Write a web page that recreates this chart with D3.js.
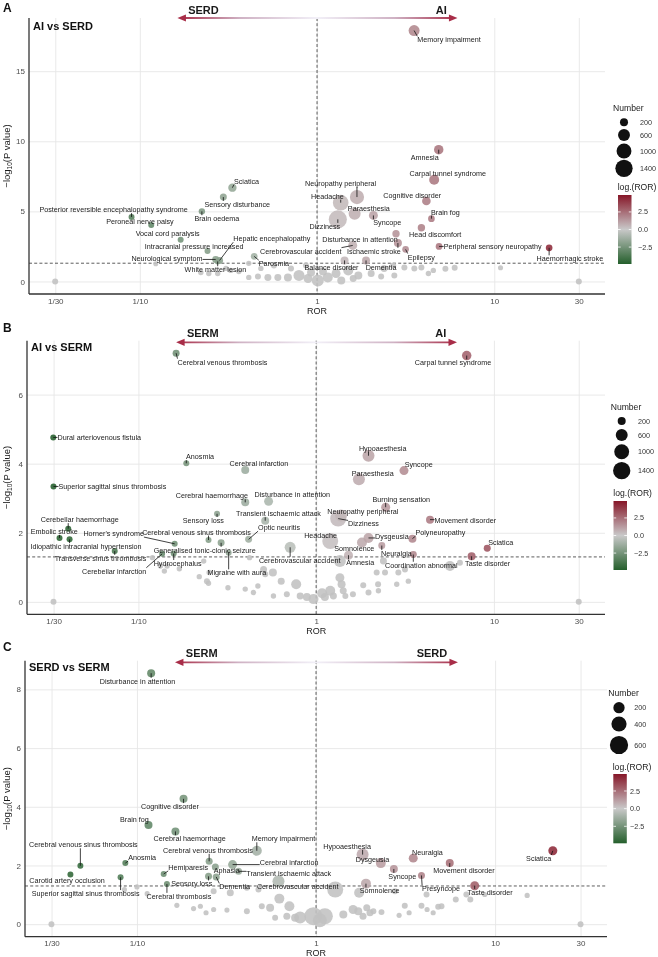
<!DOCTYPE html>
<html><head><meta charset="utf-8">
<script src="https://cdn.jsdelivr.net/npm/d3@7"></script>
<style>body{margin:0;background:#fff}svg{display:block;will-change:transform}text{font-family:"Liberation Sans",Arial,Helvetica,sans-serif}</style>
</head><body><svg id="chart" width="658" height="957"></svg>
<script>
// ---------- DATA ----------
const xTickValues = [1/30, 1/10, 1, 10, 30];
const xTickLabels = ["1/30", "1/10", "1", "10", "30"];
const yTicksA = [0, 5, 10, 15];
const yTicksB = [0, 2, 4, 6];
const yTicksC = [0, 2, 4, 6, 8];
const sizeBreaksAB = [200, 600, 1000, 1400];
const sizeBreaksC = [200, 400, 600];
const colorBreaks = [2.5, 0, -2.5];

// [name, ROR, -log10(P), Number]
const sigA = [
["Memory impairment",3.53,17.9,490],["Amnesia",4.86,9.4,330],["Carpal tunnel syndrome",4.58,7.26,383],
["Cognitive disorder",4.14,5.74,250],["Brain fog",4.42,4.48,100],["Head discomfort",3.88,3.83,150],
["Peripheral sensory neuropathy",4.88,2.5,100],["Haemorrhagic stroke",20.4,2.4,100],["Epilepsy",3.16,2.29,100],
["Ischaemic stroke",2.86,2.74,199],["Disturbance in attention",2.79,3.4,150],["Syncope",2.08,4.71,286],
["Paraesthesia",1.63,4.83,607],["Neuropathy peripheral",1.68,6.02,900],["Headache",1.36,5.62,1120],
["Dizziness",1.31,4.43,1550],["Cerebrovascular accident",1.59,2.57,286],["Balance disorder",1.43,1.5,199],
["Dementia",1.89,1.5,199],["Sciatica",0.333,6.69,230],["Sensory disturbance",0.296,6.02,122],
["Brain oedema",0.224,5.0,80],["Posterior reversible encephalopathy syndrome",0.0898,4.6,56],
["Peroneal nerve palsy",0.116,4.02,56],["Vocal cord paralysis",0.170,2.98,56],
["Intracranial pressure increased",0.241,2.17,56],["Neurological symptom",0.268,1.57,122],
["Hepatic encephalopathy",0.282,1.5,122],["White matter lesion",0.275,1.43,56],["Parosmia",0.442,1.79,100]
];
// [ROR, -log10(P), Number]
const grayA = [
[0.0333,0,56],[0.123,1.26,5],[0.412,1.29,20],[0.412,0.29,20],[0.221,0.64,20],[0.245,0.57,20],[0.275,0.57,20],
[0.326,0.79,20],[0.464,0.36,56],[0.482,0.93,20],[0.528,0.29,122],[0.571,1.14,56],[0.601,0.29,122],[0.685,0.29,199],
[0.791,0.43,490],[0.889,0.21,286],[1.01,0.07,607],[1.15,0.29,383],[1.28,0.57,286],[1.50,0.79,383],[1.71,0.43,199],
[2.02,0.57,122],[2.39,0.93,122],[2.69,1.14,56],[3.11,1.0,56],[3.54,0.93,56],[3.88,1.0,56],[4.25,0.57,20],
[4.53,0.79,20],[2.73,0.43,56],[2.30,0.36,56],[1.60,0.21,122],[1.37,0.07,199],[5.3,0.9,56],[5.98,0.98,56],
[10.85,0.98,5],[30,0,56],[0.925,0.64,199],[1.08,0.71,199],[0.713,0.93,56],[0.866,1.14,56],[0.362,0.71,20],[0.306,0.93,20]
];
const sigB = [
["Carpal tunnel syndrome",7.03,7.13,330],["Cerebral venous thrombosis",0.163,7.2,122],
["Dural arteriovenous fistula",0.0332,4.76,56],["Anosmia",0.186,4.01,56],["Cerebral infarction",0.399,3.82,199],
["Hypoaesthesia",1.97,4.23,607],["Syncope",3.12,3.8,286],["Paraesthesia",1.74,3.55,607],
["Superior sagittal sinus thrombosis",0.0333,3.34,56],["Cerebral haemorrhage",0.399,2.88,199],
["Disturbance in attention",0.540,2.91,286],["Burning sensation",2.46,2.74,286],["Sensory loss",0.277,2.55,56],
["Transient ischaemic attack",0.517,2.35,199],["Movement disorder",4.37,2.38,199],["Neuropathy peripheral",1.38,2.50,607],
["Dizziness",1.33,2.41,1178],["Cerebellar haemorrhage",0.0403,2.12,56],["Embolic stroke",0.036,1.85,56],
["Idiopathic intracranial hypertension",0.041,1.81,56],["Horner's syndrome",0.160,1.68,56],
["Cerebral venous sinus thrombosis",0.248,1.79,56],["Optic neuritis",0.417,1.81,122],
["Generalised tonic-clonic seizure",0.292,1.71,122],["Transverse sinus thrombosis",0.0736,1.47,56],
["Hydrocephalus",0.158,1.40,56],["Cerebellar infarction",0.136,1.39,56],["Migraine with aura",0.322,1.42,56],
["Headache",1.20,1.76,1178],["Somnolence",1.81,1.72,383],["Dysgeusia",1.97,1.85,383],["Polyneuropathy",3.48,1.83,199],
["Neuralgia",2.34,1.63,122],["Coordination abnormal",3.52,1.37,122],["Amnesia",1.52,1.35,286],
["Cerebrovascular accident",0.714,1.58,490],["Sciatica",9.17,1.55,122],["Taste disorder",7.49,1.32,199]
];
const grayB = [
[0.0333,0,56],[0.120,1.28,20],[0.133,1.04,20],[0.140,0.89,20],[0.145,1.04,20],[0.170,0.96,20],[0.233,1.18,20],
[0.220,0.73,20],[0.243,0.60,56],[0.248,0.54,20],[0.250,0.85,20],[0.319,0.41,20],[0.399,0.37,20],[0.422,1.28,20],
[0.444,0.27,20],[0.470,0.46,20],[0.506,0.94,122],[0.517,0.80,56],[0.571,0.85,199],[0.575,0.17,20],[0.636,0.60,122],
[0.684,0.22,56],[0.772,0.51,383],[0.813,0.17,122],[0.887,0.14,199],[0.966,0.08,383],[1.36,1.18,607],[1.36,0.70,286],
[1.39,0.51,199],[1.20,0.32,383],[1.42,0.32,122],[1.12,0.14,199],[1.25,0.17,122],[1.46,0.17,56],[1.61,0.22,56],
[1.84,0.48,56],[1.97,0.27,56],[2.24,0.32,20],[2.23,0.51,56],[2.44,0.85,56],[2.19,0.85,56],[2.84,0.51,20],
[2.90,0.85,56],[3.16,0.94,56],[3.30,0.60,20],[2.39,1.18,122],[5.66,1.04,383],[6.44,1.13,56],[30,0,56],[1.08,0.25,383]
];
const sigC = [
["Disturbance in attention",0.12,8.55,76],["Cognitive disorder",0.182,4.27,76],["Brain fog",0.116,3.38,76],
["Cerebral haemorrhage",0.164,3.16,76],["Memory impairment",0.467,2.5,146],
["Cerebral venous sinus thrombosis",0.0483,1.99,21],["Anosmia",0.0861,2.08,21],["Carotid artery occlusion",0.0425,1.69,21],
["Superior sagittal sinus thrombosis",0.081,1.6,21],["Hemiparesis",0.141,1.71,21],["Cerebral thrombosis",0.147,1.37,21],
["Cerebral venous thrombosis",0.253,2.14,47],["Cerebral infarction",0.342,2.03,109],["Aphasia",0.274,1.95,47],
["Transient ischaemic attack",0.369,1.8,47],["Sensory loss",0.251,1.63,47],["Dementia",0.277,1.61,47],
["Cerebrovascular accident",0.617,1.46,232],["Hypoaesthesia",1.82,2.37,232],["Dysgeusia",2.30,2.08,146],
["Neuralgia",3.49,2.25,109],["Movement disorder",5.58,2.08,76],["Sciatica",21.0,2.5,109],["Syncope",2.72,1.88,76],
["Presyncope",3.88,1.66,47],["Somnolence",1.90,1.38,146],["Taste disorder",7.69,1.31,109]
];
const grayC = [
[0.0333,0,21],[0.0851,1.18,3],[0.100,1.27,3],[0.114,1.04,3],[0.167,0.64,3],[0.207,0.53,3],[0.226,0.61,3],
[0.243,0.39,3],[0.268,0.50,3],[0.268,1.12,21],[0.318,0.48,3],[0.332,1.07,47],[0.411,0.44,21],[0.498,0.61,21],
[0.554,0.56,76],[0.624,0.87,146],[0.591,0.22,21],[0.687,0.27,47],[0.710,0.61,146],[0.764,0.22,76],[0.966,0.27,583],
[1.12,0.27,450],[0.477,1.18,21],[0.411,1.24,21],[1.28,1.18,450],[1.42,0.33,76],[1.61,0.50,109],[1.72,0.44,76],
[1.83,0.27,47],[2.0,0.39,47],[1.92,0.56,47],[2.09,0.44,21],[2.32,0.41,21],[1.74,1.07,146],[2.76,1.12,21],
[2.91,0.30,3],[3.13,0.63,21],[3.31,0.39,3],[3.88,0.63,21],[4.14,1.01,21],[4.17,0.50,3],[4.51,0.39,3],[4.81,0.59,21],
[5.02,0.61,21],[6.03,0.84,21],[6.91,1.01,21],[7.27,0.84,21],[8.75,1.01,3],[15.1,0.98,3],[30,0,21],[0.815,0.23,232],[1.05,0.13,334]
];

// ---------- LABEL LAYOUT (pixel offsets of label centre from its point) ----------
const offA = {"Memory impairment":[35,9.3],"Amnesia":[-14,7.4],"Carpal tunnel syndrome":[13.6,-6],"Cognitive disorder":[-14.2,-6],
"Brain fog":[14,-6.6],"Head discomfort":[13.8,6.4],"Peripheral sensory neuropathy":[53.6,0.3],"Haemorrhagic stroke":[20.7,11],
"Epilepsy":[15.7,7.7],"Ischaemic stroke":[-24,8.3],"Disturbance in attention":[-36,5.7],"Syncope":[13.9,7.3],
"Paraesthesia":[14.2,-5.6],"Neuropathy peripheral":[-16.3,-13.4],"Headache":[-13.3,-6.6],"Dizziness":[-13,7],
"Cerebrovascular accident":[-52,5.7],"Balance disorder":[-13,7.3],"Dementia":[15,7.3],"Sciatica":[14.1,-6.6],
"Sensory disturbance":[14,7.3],"Brain oedema":[14.9,7.3],"Posterior reversible encephalopathy syndrome":[-18,-7.4],
"Peroneal nerve palsy":[-11.3,-3.7],"Vocal cord paralysis":[-13,-6],"Intracranial pressure increased":[-13.4,-5],
"Neurological symptom":[-48.7,-0.7],"Hepatic encephalopathy":[52.2,-21.7],"White matter lesion":[-2.3,8.3],"Parosmia":[19.7,7.3]};
const offB = {"Carpal tunnel syndrome":[-13.7,7.3],"Cerebral venous thrombosis":[46.3,9],"Dural arteriovenous fistula":[46,0],
"Anosmia":[13.7,-6.6],"Cerebral infarction":[13.7,-6],"Hypoaesthesia":[14.2,-7],"Syncope":[14.7,-6],"Paraesthesia":[13.8,-5.3],
"Superior sagittal sinus thrombosis":[58.9,0],"Cerebral haemorrhage":[-33.3,-6.7],"Disturbance in attention":[23.7,-6.4],
"Burning sensation":[15.6,-8],"Sensory loss":[-13.7,6.7],"Transient ischaemic attack":[13.3,-7],"Movement disorder":[35.3,1],
"Neuropathy peripheral":[21.8,-4],"Dizziness":[25.3,5.3],"Cerebellar haemorrhage":[11.5,-9],"Embolic stroke":[-5.3,-6.6],
"Idiopathic intracranial hypertension":[16.5,7.3],"Horner's syndrome":[-61,-10.3],"Cerebral venous sinus thrombosis":[-12,-8],
"Optic neuritis":[30.4,-11.7],"Generalised tonic-clonic seizure":[-16.4,7.4],"Transverse sinus thrombosis":[-14.3,7.3],
"Hydrocephalus":[3.9,10],"Cerebellar infarction":[-48,17.4],"Migraine with aura":[8.2,20],"Headache":[-9.7,-5.7],
"Somnolence":[-7.7,6],"Dysgeusia":[23.4,-1],"Polyneuropathy":[28,-6],"Neuralgia":[14.6,8],"Coordination abnormal":[8,10.7],
"Amnesia":[11.7,7.6],"Cerebrovascular accident":[9.5,13],"Sciatica":[13.5,-6.3],"Taste disorder":[16.1,7.3]};
const offC = {"Disturbance in attention":[-13.7,8],"Cognitive disorder":[-13.5,7.7],"Brain fog":[-14.1,-5.7],
"Cerebral haemorrhage":[14.2,7.3],"Memory impairment":[26.6,-12],"Cerebral venous sinus thrombosis":[3,-21],"Anosmia":[16.8,-5.6],
"Carotid artery occlusion":[-3.3,6],"Superior sagittal sinus thrombosis":[-35,16.3],"Hemiparesis":[24.5,-6.6],
"Cerebral thrombosis":[12,12.4],"Cerebral venous thrombosis":[-1.2,-11],"Cerebral infarction":[56.5,-2.3],"Aphasia":[11.3,3.7],
"Transient ischaemic attack":[50.2,2.6],"Sensory loss":[-16.8,7.6],"Dementia":[18.5,10],"Cerebrovascular accident":[19.2,5.6],
"Hypoaesthesia":[-15.5,-8.3],"Dysgeusia":[-8.3,-4],"Neuralgia":[14.2,-6],"Movement disorder":[14.2,7.4],"Sciatica":[-14.1,7.7],
"Syncope":[8.5,7.4],"Presyncope":[19.6,13.3],"Somnolence":[13.7,7.3],"Taste disorder":[15.5,6.7]};

// ---------- DRAW ----------
const svg = d3.select("#chart");
const defs = svg.append("defs");
const SIG = -Math.log10(0.05);
const lim = Math.log2(30);
const color = d3.scaleLinear().domain([-lim, 0, lim]).range(["#245f2c", "#c9c9c9", "#861628"]).interpolate(d3.interpolateRgb);
const grayFill = "#c2c2c2";
const fmt = d3.format(".1f");

const panels = [
 {id:"A", title:"AI vs SERD", left:"SERD", right:"AI", sig:sigA, gray:grayA, off:offA, yTicks:yTicksA,
  L:29, R:605, T:18, B:294, letterY:11.5, titleY:29.5, arrowTextY:14,
  size:d3.scaleRadial().domain([0,1600]).range([2.5,9.2]), breaks:sizeBreaksAB,
  numX:613, numY:110.5, circX:624, sizeY:[122.3,135,151,168.3], sizeLabX:640,
  logX:617.7, logY:189.7, barX:618, barT:195, barB:264, barLabX:638},
 {id:"B", title:"AI vs SERM", left:"SERM", right:"AI", sig:sigB, gray:grayB, off:offB, yTicks:yTicksB,
  L:27, R:605, T:340.7, B:614.3, letterY:332, titleY:351, arrowTextY:337.3,
  size:d3.scaleRadial().domain([0,1600]).range([2.5,9.2]), breaks:sizeBreaksAB,
  numX:610.7, numY:409.7, circX:621.7, sizeY:[421,435,451.7,470.7], sizeLabX:638,
  logX:613.3, logY:496.3, barX:613.5, barT:501, barB:570, barLabX:634},
 {id:"C", title:"SERD vs SERM", left:"SERM", right:"SERD", sig:sigC, gray:grayC, off:offC, yTicks:yTicksC,
  L:25, R:607, T:660.7, B:936.7, letterY:651, titleY:671, arrowTextY:657.3,
  size:d3.scaleRadial().domain([0,700]).range([2.5,9.8]), breaks:sizeBreaksC,
  numX:608.3, numY:696.3, circX:619, sizeY:[707.7,724,745], sizeLabX:634.3,
  logX:612.7, logY:769.7, barX:613.3, barT:774, barB:843.3, barLabX:630}
];

panels.forEach(drawPanel);

function drawPanel(c) {
  const g = svg.append("g");
  const pts = c.sig.map(d => ({name:d[0], ror:d[1], p:d[2], n:d[3]}))
    .concat(c.gray.map(d => ({name:null, ror:d[0], p:d[1], n:d[2]})));
  const lx = d3.extent(pts, d => Math.log10(d.ror)), px = (lx[1]-lx[0])*0.05;
  const x = d3.scaleLog().domain([10**(lx[0]-px), 10**(lx[1]+px)]).range([c.L, c.R]);
  const ly = d3.extent(pts, d => d.p), py = (ly[1]-ly[0])*0.05;
  const y = d3.scaleLinear().domain([ly[0]-py, ly[1]+py]).range([c.B, c.T]);

  // grid
  const gx = g.append("g").attr("transform", `translate(0,${c.B})`)
    .call(d3.axisBottom(x).tickValues(xTickValues).tickSize(-(c.B-c.T)).tickFormat(""));
  const gy = g.append("g").attr("transform", `translate(${c.L},0)`)
    .call(d3.axisLeft(y).tickValues(c.yTicks).tickSize(-(c.R-c.L)).tickFormat(""));
  [gx, gy].forEach(a => { a.select(".domain").remove(); a.selectAll("line").attr("stroke", "#e6e6e6").attr("stroke-width", 0.9); });

  // reference lines
  g.append("line").attr("x1", x(1)).attr("x2", x(1)).attr("y1", c.T).attr("y2", c.B)
    .attr("stroke", "#333").attr("stroke-width", 0.8).attr("stroke-dasharray", "3,2.2");
  g.append("line").attr("x1", c.L).attr("x2", c.R).attr("y1", y(SIG)).attr("y2", y(SIG))
    .attr("stroke", "#333").attr("stroke-width", 0.8).attr("stroke-dasharray", "3,2.2");

  // axes labels
  const ax = g.append("g").attr("transform", `translate(0,${c.B})`)
    .call(d3.axisBottom(x).tickValues(xTickValues).tickFormat((d,i) => xTickLabels[i]).tickSize(0).tickPadding(4));
  const ay = g.append("g").attr("transform", `translate(${c.L},0)`)
    .call(d3.axisLeft(y).tickValues(c.yTicks).tickSize(0).tickPadding(4));
  [ax, ay].forEach(a => { a.select(".domain").remove();
    a.selectAll("text").attr("font-size", 8).attr("fill", "#4d4d4d").attr("font-family", '"Liberation Sans",Arial,sans-serif'); });

  // axis lines
  g.append("line").attr("x1", c.L).attr("x2", c.L).attr("y1", c.T).attr("y2", c.B).attr("stroke", "#333").attr("stroke-width", 1.3);
  g.append("line").attr("x1", c.L).attr("x2", c.R).attr("y1", c.B).attr("y2", c.B).attr("stroke", "#333").attr("stroke-width", 1.3);

  // axis titles
  g.append("text").attr("x", x(1)).attr("y", c.B + 19.5).attr("text-anchor", "middle")
    .attr("font-size", 9).attr("fill", "#1a1a1a").text("ROR");
  const yt = g.append("text").attr("transform", `translate(9.5,${(c.T+c.B)/2}) rotate(-90)`)
    .attr("text-anchor", "middle").attr("font-size", 9.5).attr("fill", "#1a1a1a");
  yt.append("tspan").text("\u2212log");
  yt.append("tspan").attr("font-size", 6.5).attr("dy", 2).text("10");
  yt.append("tspan").attr("dy", -2).text("(P value)");

  // arrows
  const ay0 = c.T + (c.id === "A" ? 0 : 1.6);
  const arrows = [{tip: x(0.163), side: "L"}, {tip: x(6.2), side: "R"}];
  arrows.forEach(a => {
    const gid = `grad${c.id}${a.side}`;
    const lg = defs.append("linearGradient").attr("id", gid).attr("gradientUnits", "userSpaceOnUse")
      .attr("x1", x(1)).attr("x2", a.tip).attr("y1", 0).attr("y2", 0);
    lg.append("stop").attr("offset", 0).attr("stop-color", "#f2f0f8");
    lg.append("stop").attr("offset", 0.55).attr("stop-color", "#cfb2c4");
    lg.append("stop").attr("offset", 1).attr("stop-color", "#a82d48");
    const dir = a.side === "L" ? 1 : -1;
    g.append("line").attr("x1", x(1)).attr("x2", a.tip + dir*6).attr("y1", ay0).attr("y2", ay0)
      .attr("stroke", `url(#${gid})`).attr("stroke-width", 1.8);
    g.append("path").attr("d", `M${a.tip},${ay0} L${a.tip + dir*8.5},${ay0-3.6} L${a.tip + dir*8.5},${ay0+3.6} Z`)
      .attr("fill", "#a82d48");
  });
  g.append("text").attr("x", x(0.1875)).attr("y", c.arrowTextY).attr("font-size", 11).attr("font-weight", "bold")
    .attr("fill", "#1a1a1a").attr("text-anchor", "start").text(c.left);
  g.append("text").attr("x", x(5.4)).attr("y", c.arrowTextY).attr("font-size", 11).attr("font-weight", "bold")
    .attr("fill", "#1a1a1a").attr("text-anchor", "end").text(c.right);

  // panel letter & title
  svg.append("text").attr("x", 3).attr("y", c.letterY).attr("font-size", 12).attr("font-weight", "bold").attr("fill", "#111").text(c.id);
  g.append("text").attr("x", c.L + 4).attr("y", c.titleY).attr("font-size", 11).attr("font-weight", "bold").attr("fill", "#111").text(c.title);

  // points
  const ordered = pts.filter(d => !d.name).sort((a,b) => b.n - a.n).concat(pts.filter(d => d.name).sort((a,b) => b.n - a.n));
  g.append("g").selectAll("circle").data(ordered).join("circle")
    .attr("cx", d => x(d.ror)).attr("cy", d => y(d.p)).attr("r", d => c.size(d.n))
    .attr("fill", d => d.p > SIG ? color(Math.log2(d.ror)) : grayFill).attr("fill-opacity", 0.88);

  // labels
  const segG = g.append("g"), labG = g.append("g");
  pts.filter(d => d.name).forEach(d => {
    const cx = x(d.ror), cy = y(d.p), o = c.off[d.name] || [10, -6];
    const t = labG.append("text").attr("x", cx + o[0]).attr("y", cy + o[1]).attr("dy", "0.35em")
      .attr("text-anchor", "middle").attr("font-size", 7.2).attr("fill", "#1a1a1a").text(d.name);
    const bb = t.node().getBBox();
    const nx = Math.max(bb.x, Math.min(cx, bb.x + bb.width)), ny = Math.max(bb.y + 1, Math.min(cy, bb.y + bb.height - 1));
    if (Math.hypot(nx - cx, ny - cy) > 3) {
      segG.append("line").attr("x1", cx).attr("y1", cy).attr("x2", nx).attr("y2", ny)
        .attr("stroke", "#111").attr("stroke-width", 0.8);
    }
  });

  // size legend
  g.append("text").attr("x", c.numX).attr("y", c.numY).attr("font-size", 8.6).attr("fill", "#1a1a1a").text("Number");
  c.breaks.forEach((b, i) => {
    g.append("circle").attr("cx", c.circX).attr("cy", c.sizeY[i]).attr("r", c.size(b)).attr("fill", "#111");
    g.append("text").attr("x", c.sizeLabX).attr("y", c.sizeY[i]).attr("dy", "0.35em").attr("font-size", 7.2).attr("fill", "#333").text(b);
  });

  // colour bar
  g.append("text").attr("x", c.logX).attr("y", c.logY).attr("font-size", 8.6).attr("fill", "#1a1a1a").text("log.(ROR)");
  const cb = d3.scaleLinear().domain([-lim, lim]).range([c.barB, c.barT]);
  const cgid = `cbar${c.id}`;
  const cg = defs.append("linearGradient").attr("id", cgid).attr("x1", 0).attr("x2", 0).attr("y1", 1).attr("y2", 0);
  d3.range(0, 1.0001, 0.05).forEach(f => cg.append("stop").attr("offset", f).attr("stop-color", color(-lim + 2*lim*f)));
  g.append("rect").attr("x", c.barX).attr("y", c.barT).attr("width", 13.5).attr("height", c.barB - c.barT).attr("fill", `url(#${cgid})`);
  colorBreaks.forEach(v => {
    g.append("line").attr("x1", c.barX).attr("x2", c.barX + 2.7).attr("y1", cb(v)).attr("y2", cb(v)).attr("stroke", "#fff").attr("stroke-width", 0.8);
    g.append("line").attr("x1", c.barX + 10.8).attr("x2", c.barX + 13.5).attr("y1", cb(v)).attr("y2", cb(v)).attr("stroke", "#fff").attr("stroke-width", 0.8);
    g.append("text").attr("x", c.barLabX).attr("y", cb(v)).attr("dy", "0.35em").attr("font-size", 7.2).attr("fill", "#333").text(fmt(v));
  });
}
</script></body></html>
